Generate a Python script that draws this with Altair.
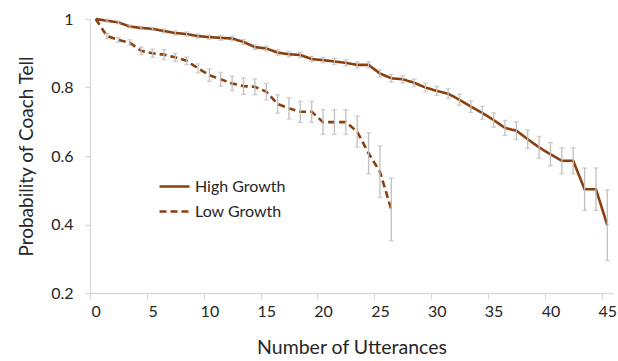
import altair as alt
import pandas as pd

# Probability of a coach "tell" after each utterance, by group
high_growth = [1.0, 0.995, 0.99, 0.978, 0.974, 0.971, 0.965, 0.959, 0.956, 0.95,
               0.947, 0.945, 0.943, 0.933, 0.918, 0.914, 0.902, 0.897, 0.895, 0.883,
               0.880, 0.876, 0.872, 0.866, 0.866, 0.841, 0.827, 0.824, 0.814, 0.80,
               0.79, 0.782, 0.764, 0.744, 0.726, 0.705, 0.682, 0.674, 0.649, 0.625,
               0.605, 0.586, 0.586, 0.503, 0.503, 0.398]
high_err = [0.0, 0.004, 0.004, 0.004, 0.004, 0.004, 0.006, 0.006, 0.006, 0.006,
            0.006, 0.007, 0.007, 0.007, 0.007, 0.007, 0.008, 0.008, 0.008, 0.008,
            0.008, 0.009, 0.009, 0.009, 0.009, 0.011, 0.011, 0.011, 0.011, 0.013,
            0.013, 0.014, 0.016, 0.017, 0.019, 0.021, 0.022, 0.026, 0.027, 0.032,
            0.034, 0.038, 0.038, 0.062, 0.062, 0.103]

low_growth = [1.0, 0.95, 0.939, 0.931, 0.907, 0.90, 0.896, 0.888, 0.878, 0.856,
              0.836, 0.824, 0.812, 0.804, 0.802, 0.788, 0.752, 0.739, 0.729, 0.729,
              0.699, 0.699, 0.699, 0.671, 0.608, 0.554, 0.444]
low_err = [0.0, 0.008, 0.007, 0.008, 0.011, 0.012, 0.015, 0.012, 0.011, 0.013,
           0.018, 0.020, 0.021, 0.024, 0.023, 0.024, 0.027, 0.031, 0.031, 0.031,
           0.036, 0.036, 0.036, 0.045, 0.060, 0.075, 0.092]

series_names = ["High Growth", "Low Growth"]
x_ticks = [0, 5, 10, 15, 20, 25, 30, 35, 40, 45]
y_ticks = [0.2, 0.4, 0.6, 0.8, 1.0]

rows = []
for name, vals, errs in [(series_names[0], high_growth, high_err),
                         (series_names[1], low_growth, low_err)]:
    for i, (v, e) in enumerate(zip(vals, errs)):
        rows.append({"Series": name, "n": i, "p": v, "lo": v - e, "hi": v + e, "err": e})
df = pd.DataFrame(rows)

BROWN = "#8A3F0E"
GREY = "#BFBFBF"
TEXT = "#262626"
FONT = "Lato"
W, H = 523, 274
half_step = W / 46 / 2

x_scale = alt.Scale(domain=[-0.5, 45.5], nice=False, zero=False)
y_scale = alt.Scale(domain=[0.2, 1.0], nice=False, zero=False)

x_enc = alt.X("n:Q", scale=x_scale, title="Number of Utterances",
              axis=alt.Axis(values=x_ticks, tickOffset=-half_step, labelOffset=half_step,
                            grid=False, tickSize=6, domainColor="#D9D9D9", tickColor="#D9D9D9",
                            domainWidth=1.3, tickWidth=1.3, labelPadding=4, labelFontSize=16,
                            titleFontSize=19.5, titlePadding=19, labelColor=TEXT,
                            titleColor=TEXT, labelFont=FONT, titleFont=FONT,
                            titleFontWeight="normal"))

legend_cfg = dict(title=None, orient="none", legendX=68, legendY=151,
                  symbolType="stroke", symbolSize=900, symbolStrokeWidth=2.6,
                  labelFontSize=16, labelFont=FONT, labelColor=TEXT,
                  labelOffset=4, rowPadding=-7)

lines = alt.Chart(df).mark_line(strokeWidth=2.6, strokeCap="butt").encode(
    x=x_enc,
    y=alt.Y("p:Q", scale=y_scale, title="Probability of Coach Tell",
            axis=alt.Axis(values=y_ticks, format="~g", grid=False, tickSize=5,
                          domainColor="#D9D9D9", tickColor="#D9D9D9", domainWidth=1.3,
                          tickWidth=1.3, labelPadding=12, labelFontSize=16, titleFontSize=19,
                          titlePadding=14, labelColor=TEXT, titleColor=TEXT,
                          labelFont=FONT, titleFont=FONT, titleFontWeight="normal")),
    color=alt.Color("Series:N", scale=alt.Scale(domain=series_names, range=[BROWN, BROWN]),
                    legend=alt.Legend(**legend_cfg)),
    strokeDash=alt.StrokeDash("Series:N",
                              scale=alt.Scale(domain=series_names, range=[[1, 0], [7, 4]]),
                              legend=alt.Legend(**legend_cfg)),
    detail="Series:N",
)

bars_df = df[df["err"] > 0]
err_rules = alt.Chart(bars_df).mark_rule(color=GREY, strokeWidth=1.3).encode(
    x="n:Q", y=alt.Y("lo:Q", scale=y_scale), y2="hi:Q")
cap_lo = alt.Chart(bars_df).mark_tick(color=GREY, orient="horizontal", size=5, thickness=1.3).encode(
    x="n:Q", y=alt.Y("lo:Q", scale=y_scale))
cap_hi = alt.Chart(bars_df).mark_tick(color=GREY, orient="horizontal", size=5, thickness=1.3).encode(
    x="n:Q", y=alt.Y("hi:Q", scale=y_scale))

chart = alt.layer(lines, err_rules, cap_lo, cap_hi).properties(
    width=W, height=H,
    autosize=alt.AutoSizeParams(type="none"),
    padding={"left": 90, "top": 19, "right": 5, "bottom": 68},
    background="white",
).configure_view(stroke=None)

chart.save("out.html", embed_options={"renderer": "svg", "actions": False})
